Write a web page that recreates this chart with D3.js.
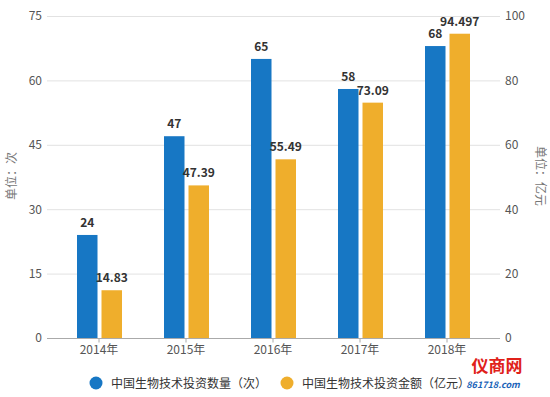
<!DOCTYPE html>
<html>
<head>
<meta charset="utf-8">
<script src="https://cdn.jsdelivr.net/npm/d3@7"></script>
<style>
	body { margin: 0; background: #fff; }
	svg text { font-family: "Noto Sans CJK SC", "Noto Sans", sans-serif; }
</style>
</head>
<body>
<svg id="chart"></svg>
<script>
	var years = ["2014年", "2015年", "2016年", "2017年", "2018年"];
	var counts = [24, 47, 65, 58, 68];
	var amounts = [14.83, 47.39, 55.49, 73.09, 94.497];
	var amountLabels = ["14.83", "47.39", "55.49", "73.09", "94.497"];
	var leftTicks = [0, 15, 30, 45, 60, 75];
	var rightTicks = [0, 20, 40, 60, 80, 100];
	var seriesNames = ["中国生物技术投资数量（次）", "中国生物技术投资金额（亿元）"];

	var width = 550, height = 397;
	var blue = "#1777c4", orange = "#efae2c";

	var svg = d3.select("#chart").attr("width", width).attr("height", height);

	var x = d3.scaleBand().domain(years).range([55.5, 490.5]);
	var yL = d3.scaleLinear().domain([0, 75]).range([338, 16]);
	var yR = d3.scaleLinear().domain([0, 100]).range([338, 16]);

	// gridlines
	svg.append("g").selectAll("line")
		.data(leftTicks.slice(1))
		.enter().append("line")
		.attr("x1", 47).attr("x2", 500)
		.attr("y1", function(d){ return yL(d) + 0.5; })
		.attr("y2", function(d){ return yL(d) + 0.5; })
		.attr("stroke", "#e2e2e2");

	// left axis labels
	var leftAxis = svg.append("g")
		.attr("transform", "translate(45,0)")
		.call(d3.axisLeft(yL).tickValues(leftTicks).tickSize(0).tickPadding(3));
	leftAxis.select(".domain").remove();
	leftAxis.selectAll("text").attr("fill", "#555").style("font-size", "12px");

	var rightAxis = svg.append("g")
		.attr("transform", "translate(503,0)")
		.call(d3.axisRight(yR).tickValues(rightTicks).tickSize(0).tickPadding(2));
	rightAxis.select(".domain").remove();
	rightAxis.selectAll("text").attr("fill", "#555").style("font-size", "12px");

	// bars
	var bw = 20.5;
	svg.append("g").selectAll("rect")
		.data(counts)
		.enter().append("rect")
		.attr("x", function(d, i){ return x(years[i]) + x.bandwidth() / 2 - 22; })
		.attr("y", function(d){ return yL(d); })
		.attr("width", bw)
		.attr("height", function(d){ return yL(0) - yL(d); })
		.attr("fill", blue);

	svg.append("g").selectAll("rect")
		.data(amounts)
		.enter().append("rect")
		.attr("x", function(d, i){ return x(years[i]) + x.bandwidth() / 2 + 2.5; })
		.attr("y", function(d){ return yR(d); })
		.attr("width", bw)
		.attr("height", function(d){ return yR(0) - yR(d); })
		.attr("fill", orange);

	// value labels
	svg.append("g").selectAll("text")
		.data(counts)
		.enter().append("text")
		.attr("x", function(d, i){ return x(years[i]) + x.bandwidth() / 2 - 11.75; })
		.attr("y", function(d){ return yL(d) - 8; })
		.attr("text-anchor", "middle")
		.attr("fill", "#333")
		.style("font-size", "12px").style("font-weight", "bold")
		.text(function(d){ return d; });

	svg.append("g").selectAll("text")
		.data(amounts)
		.enter().append("text")
		.attr("x", function(d, i){ return x(years[i]) + x.bandwidth() / 2 + 12.75; })
		.attr("y", function(d){ return yR(d) - 8; })
		.attr("text-anchor", "middle")
		.attr("fill", "#333")
		.style("font-size", "12px").style("font-weight", "bold")
		.text(function(d, i){ return amountLabels[i]; });

	// bottom axis
	var xAxis = svg.append("g")
		.attr("transform", "translate(0,338.5)")
		.call(d3.axisBottom(x).tickSize(4).tickPadding(3));
	xAxis.select(".domain").attr("stroke", "#aaa").attr("d", "M47,0H500");
	xAxis.selectAll(".tick line").attr("stroke", "#aaa");
	xAxis.selectAll("text").attr("fill", "#555").style("font-size", "12px");

	// axis titles
	svg.append("text")
		.attr("transform", "translate(16,176) rotate(-90)")
		.attr("text-anchor", "middle")
		.attr("fill", "#777").style("font-size", "12px")
		.text("单位：次");
	svg.append("text")
		.attr("transform", "translate(536,176) rotate(90)")
		.attr("text-anchor", "middle")
		.attr("fill", "#777").style("font-size", "12px")
		.text("单位：亿元");

	// legend
	var legX = [96, 287];
	var legend = svg.append("g").selectAll("g")
		.data(seriesNames)
		.enter().append("g")
		.attr("transform", function(d, i){ return "translate(" + legX[i] + ",383)"; });
	legend.append("circle").attr("r", 6.5)
		.attr("fill", function(d, i){ return i === 0 ? blue : orange; });
	legend.append("text")
		.attr("x", 15).attr("y", 4.5)
		.attr("fill", "#333").style("font-size", "12px")
		.text(function(d){ return d; });

	// watermark logo
	svg.append("text")
		.attr("x", 497).attr("y", 372)
		.attr("text-anchor", "middle")
		.attr("fill", "#e0211a").style("font-size", "17px").style("font-weight", "bold")
		.text("仪商网");
	svg.append("text")
		.attr("x", 493).attr("y", 388)
		.attr("text-anchor", "middle")
		.attr("fill", "#1a63b8").style("font-size", "9px").style("font-weight", "bold").style("font-style", "italic")
		.text("861718.com");
</script>
</body>
</html>
